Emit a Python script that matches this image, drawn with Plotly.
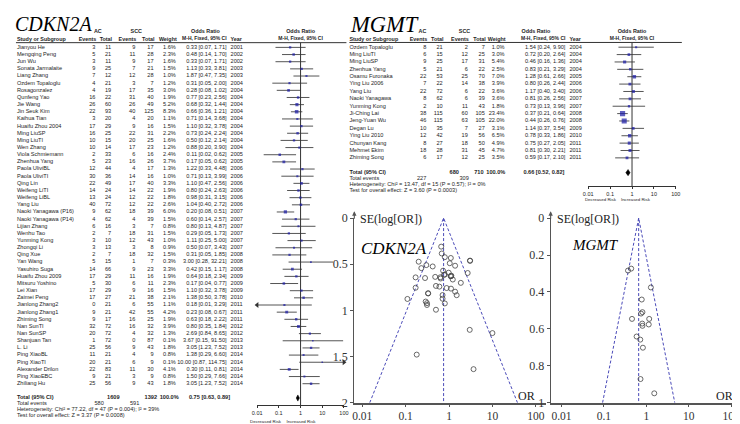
import numpy as np
import plotly.graph_objects as go

W, H = 740, 424

# ---------------- CDKN2A data ----------------
cdk_study = ["Jianyou He", "Mengqing Peng", "Jun Wu", "Sonata Jarmalaite", "Liang Zhang", "Ozdem Topaloglu",
             "Rosagonzalez", "Qunfeng Yao", "Jie Wang", "Jin Seuk Kim", "Kaihua Tian", "Huaifu Zhou 2004",
             "Ming LiuSP", "Ming LiuTI", "Wen Zhang", "Viola Schmiemann", "Zhenhua Yang", "Paola UliviBL",
             "Paola UliviTI", "Qing Lin", "Weifeng LiTI", "Weifeng LiBL", "Yang Liu", "Naoki Yanagawa (P16)",
             "Naoki Yanagawa (P14)", "Lijian Zhang", "Wenhu Tao", "Yunming Kong", "Zhongqi Li", "Qing Xue",
             "Yan Wang", "Yasuhiro Suga", "Huaifu Zhou 2009", "Mitsuru Yoshino", "Lei Xian", "Zaimei Peng",
             "Jianlong Zhang2", "Jianlong Zhang1", "Zhiming Song", "Nan SunTI", "Nan SunSP", "Shanjuan Tan",
             "L. Li", "Ping XiaoBL", "Ping XiaoTI", "Alexander Drilon", "Ping XiaoEBC", "Zhiliang Hu"]
cdk_ac_events = [3, 5, 3, 9, 7, 4, 4, 16, 26, 22, 3, 17, 16, 10, 10, 2, 5, 12, 30, 22, 14, 13, 40, 9, 4, 6, 2, 3, 3, 2,
                 5, 14, 17, 5, 17, 17, 0, 9, 9, 32, 20, 1, 25, 11, 20, 22, 9, 25]
cdk_ac_total = [11, 21, 11, 25, 12, 21, 19, 22, 60, 93, 20, 29, 25, 15, 14, 33, 23, 44, 36, 49, 24, 24, 72, 62, 62, 16,
                7, 10, 13, 7, 15, 66, 29, 30, 29, 27, 21, 21, 17, 72, 72, 72, 56, 21, 21, 83, 21, 56]
cdk_scc_events = [9, 11, 9, 7, 12, 3, 17, 31, 26, 40, 4, 9, 22, 20, 17, 6, 16, 4, 14, 17, 14, 12, 12, 18, 4, 3, 18, 12,
                  3, 18, 1, 9, 11, 6, 9, 21, 6, 42, 16, 16, 4, 0, 9, 4, 6, 11, 3, 9]
cdk_scc_total = [17, 28, 17, 21, 28, 7, 35, 40, 49, 125, 20, 16, 31, 25, 23, 16, 26, 17, 16, 40, 22, 22, 22, 39, 39, 7,
                 31, 43, 8, 32, 7, 23, 16, 11, 16, 38, 55, 55, 25, 32, 32, 87, 43, 9, 9, 30, 9, 43]
cdk_weight = [1.6, 2.3, 1.6, 1.5, 1.0, 1.2, 3.0, 1.9, 5.2, 8.3, 1.1, 1.5, 2.2, 1.6, 1.2, 2.4, 3.7, 1.3, 1.0, 3.3, 1.9,
              1.8, 2.6, 6.0, 1.5, 0.8, 1.5, 1.0, 0.9, 1.5, 0.3, 3.3, 1.9, 2.3, 1.5, 2.1, 1.1, 4.2, 1.9, 3.9, 1.3, 0.1,
              1.8, 0.8, 0.1, 4.1, 0.8, 1.8]
cdk_or = [0.33, 0.48, 0.33, 1.13, 1.87, 0.31, 0.28, 0.77, 0.68, 0.66, 0.71, 1.10, 0.73, 0.50, 0.88, 0.11, 0.17, 1.22,
          0.71, 1.10, 0.80, 0.98, 1.04, 0.20, 0.60, 0.80, 0.29, 1.11, 0.50, 0.31, 3.00, 0.42, 0.64, 0.17, 1.10, 1.38,
          0.18, 0.23, 0.63, 0.80, 2.69, 3.67, 3.05, 1.38, 10.00, 0.30, 1.50, 3.05]
cdk_lo = [0.07, 0.14, 0.07, 0.33, 0.47, 0.05, 0.08, 0.23, 0.32, 0.36, 0.14, 0.32, 0.24, 0.12, 0.20, 0.02, 0.05, 0.33,
          0.13, 0.47, 0.24, 0.31, 0.40, 0.08, 0.14, 0.13, 0.05, 0.25, 0.07, 0.05, 0.28, 0.15, 0.18, 0.04, 0.32, 0.50,
          0.01, 0.08, 0.18, 0.35, 0.84, 0.15, 1.23, 0.29, 0.87, 0.11, 0.29, 1.23]
cdk_hi = [1.71, 1.70, 1.71, 3.81, 7.35, 2.00, 1.02, 2.56, 1.44, 1.21, 3.68, 3.78, 2.24, 2.14, 3.90, 0.62, 0.62, 4.48,
          3.99, 2.56, 2.63, 3.15, 2.72, 0.51, 2.57, 4.87, 1.73, 5.00, 3.43, 1.85, 32.21, 1.17, 2.34, 0.77, 3.78, 3.78,
          3.29, 0.67, 2.22, 1.84, 8.65, 91.50, 7.52, 6.60, 114.75, 0.81, 7.66, 7.52]
cdk_year = [2001, 2002, 2002, 2003, 2003, 2004, 2004, 2004, 2004, 2004, 2004, 2004, 2004, 2004, 2004, 2005, 2005,
            2006, 2006, 2006, 2006, 2006, 2006, 2007, 2007, 2007, 2007, 2007, 2007, 2008, 2008, 2008, 2009, 2009,
            2009, 2010, 2011, 2011, 2011, 2012, 2012, 2013, 2013, 2014, 2014, 2014, 2014, 2014]
cdk_total_n = [1609, 1392]
cdk_total_events = [580, 591]
cdk_pooled = [0.75, 0.63, 0.89]
cdk_het = "Heterogeneity: Chi² = 77.22, df = 47 (P = 0.004); I² = 39%"
cdk_test = "Test for overall effect: Z = 3.37 (P = 0.0008)"

# ---------------- MGMT data ----------------
mg_study = ["Ozdem Topaloglu", "Ming LiuTI", "Ming LiuSP", "Zhenhua Yang", "Osamu Furonaka", "Ying Liu 2006",
            "Yang Liu", "Naoki Yanagawa", "Yunming Kong", "Ji-Ching Lai", "Jeng-Yuan Wu", "Degan Lu",
            "Ying Liu 2010", "Chunyan Kang", "Mehmet Ekim", "Zhiming Song"]
mg_ac_events = [8, 6, 9, 5, 22, 7, 22, 8, 2, 38, 46, 10, 12, 8, 18, 6]
mg_ac_total = [21, 15, 25, 21, 53, 22, 72, 62, 10, 115, 115, 35, 42, 27, 28, 17]
mg_scc_events = [2, 12, 17, 6, 25, 14, 6, 6, 11, 60, 63, 7, 19, 18, 31, 12]
mg_scc_total = [7, 25, 31, 22, 70, 38, 22, 39, 43, 105, 105, 27, 56, 50, 45, 25]
mg_weight = [1.0, 3.0, 5.4, 2.5, 7.0, 3.9, 3.6, 3.6, 1.8, 23.4, 22.0, 3.1, 6.5, 4.9, 4.7, 3.5]
mg_or = [1.54, 0.72, 0.46, 0.83, 1.28, 0.80, 1.17, 0.81, 0.73, 0.37, 0.44, 1.14, 0.78, 0.75, 0.81, 0.59]
mg_lo = [0.24, 0.20, 0.16, 0.21, 0.61, 0.26, 0.40, 0.26, 0.13, 0.21, 0.26, 0.37, 0.33, 0.27, 0.30, 0.17]
mg_hi = [9.90, 2.64, 1.36, 3.29, 2.66, 2.44, 3.40, 2.56, 3.96, 0.64, 0.76, 3.54, 1.86, 2.05, 2.21, 2.10]
mg_year = [2004, 2004, 2004, 2004, 2005, 2006, 2006, 2007, 2007, 2008, 2008, 2009, 2010, 2011, 2011, 2011]
mg_total_n = [680, 710]
mg_total_events = [227, 309]
mg_pooled = [0.66, 0.52, 0.82]
mg_het = "Heterogeneity: Chi² = 13.47, df = 15 (P = 0.57); I² = 0%"
mg_test = "Test for overall effect: Z = 3.60 (P = 0.0003)"

forest_ticks = [0.01, 0.1, 1, 10, 100]
forest_ticktext = ["0.01", "0.1", "1", "10", "100"]
cdk_se_ticks = [0, 0.5, 1, 1.5, 2]
mg_se_ticks = [0, 0.2, 0.4, 0.6, 0.8, 1]

SANS = "Liberation Sans, Arial, sans-serif"
SERIF = "Liberation Serif, Times New Roman, serif"
FS = 5.6
TXT = "#1e1e1e"

fig = go.Figure()


def txt(xs, ys, texts, pos="middle left", size=FS, family=SANS, color=TXT):
    fig.add_trace(go.Scatter(x=xs, y=ys, text=texts, mode="text", textposition=pos,
                             textfont=dict(size=size, family=family, color=color),
                             xaxis="x", yaxis="y", hoverinfo="skip", showlegend=False, cliponaxis=False))


def panel(study, ac_ev, ac_tot, scc_ev, scc_tot, weight, orv, lo, hi, year, tot_n, tot_ev, pooled, het, test,
          row0, dy, cols, tcols, hdr, xaxis, axis_y):
    n = len(study)
    ys = [row0 + i * dy for i in range(n)]
    c = cols
    txt([c["name"]] * n, ys, study, pos="middle right")
    txt([c["ac_ev"]] * n, ys, [str(v) for v in ac_ev])
    txt([c["ac_tot"]] * n, ys, [str(v) for v in ac_tot])
    txt([c["scc_ev"]] * n, ys, [str(v) for v in scc_ev])
    txt([c["scc_tot"]] * n, ys, [str(v) for v in scc_tot])
    txt([c["w"]] * n, ys, ["%.1f%%" % v for v in weight])
    txt([c["ci"]] * n, ys, ["%.2f [%.2f, %.2f]" % (a, b, d) for a, b, d in zip(orv, lo, hi)])
    txt([c["year"]] * n, ys, [str(v) for v in year], pos="middle right")
    yt = ys[-1] + 2 * dy
    y_ev = yt + 6.2
    y_het = y_ev + 6.1
    y_test = y_het + 6.1
    t = tcols
    txt([c["name"]], [yt], ["<b>Total (95% CI)</b>"], pos="middle right")
    txt([t["n1"], t["n2"], t["w"], t["ci"]], [yt] * 4,
        ["<b>%d</b>" % tot_n[0], "<b>%d</b>" % tot_n[1], "<b>100.0%</b>",
         "<b>%.2f [%.2f, %.2f]</b>" % tuple(pooled)])
    txt([c["name"]], [y_ev], ["Total events"], pos="middle right")
    txt([t["e1"], t["e2"]], [y_ev] * 2, [str(tot_ev[0]), str(tot_ev[1])])
    txt([c["name"], c["name"]], [y_het, y_test], [het, test], pos="middle right")
    # headers
    h1, h2 = 16.8, 25.0
    txt([hdr["ac"], hdr["scc"], hdr["or"], hdr["f"]], [h1] * 4,
        ["<b>AC</b>", "<b>SCC</b>", "<b>Odds Ratio</b>", "<b>Odds Ratio</b>"], pos="middle center", size=5.4)
    txt([c["name"], c["year"]], [h2] * 2, ["<b>Study or Subgroup</b>", "<b>Year</b>"], pos="middle right",
        size=5.4)
    txt([c["ac_ev"] + 1, c["ac_tot"] + 1, c["scc_ev"] + 1, c["scc_tot"] + 1, c["w"] + 1], [h2] * 5,
        ["<b>Events</b>", "<b>Total</b>", "<b>Events</b>", "<b>Total</b>", "<b>Weight</b>"], size=5.4)
    txt([c["ci"]], [h2], ["<b>M-H, Fixed, 95% CI</b>"], size=5.0)
    txt([hdr["f"]], [h2], ["<b>M-H, Fixed, 95% CI</b>"], pos="middle center", size=5.0)

    # forest plot
    lx, ly = [], []
    for i in range(n):
        lx += [lo[i], hi[i], None]
        ly += [ys[i], ys[i], None]
    fig.add_trace(go.Scatter(x=lx, y=ly, mode="lines", line=dict(color="#555555", width=1),
                             xaxis=xaxis, yaxis="y", hoverinfo="skip", showlegend=False))
    fig.add_trace(go.Scatter(x=[1, 1], y=[28.6, axis_y], mode="lines", line=dict(color="#333333", width=1),
                             xaxis=xaxis, yaxis="y", hoverinfo="skip", showlegend=False))
    fig.add_trace(go.Scatter(x=orv, y=ys, mode="markers",
                             marker=dict(symbol="square", color="#1a1aa6",
                                         size=[1.3 + 8 * np.sqrt(w / 100) for w in weight], line=dict(width=0)),
                             xaxis=xaxis, yaxis="y", hoverinfo="skip", showlegend=False))
    ax_l = [(forest_ticks[0], ys[i]) for i in range(n) if lo[i] <= forest_ticks[0]]
    ax_r = [(forest_ticks[-1], ys[i]) for i in range(n) if hi[i] >= forest_ticks[-1]]
    if ax_l:
        fig.add_trace(go.Scatter(x=[a[0] for a in ax_l], y=[a[1] for a in ax_l], mode="markers",
                                 marker=dict(symbol="triangle-left", size=5, color="#333333"),
                                 xaxis=xaxis, yaxis="y", cliponaxis=False, hoverinfo="skip", showlegend=False))
    if ax_r:
        fig.add_trace(go.Scatter(x=[a[0] for a in ax_r], y=[a[1] for a in ax_r], mode="markers",
                                 marker=dict(symbol="triangle-right", size=5, color="#333333"),
                                 xaxis=xaxis, yaxis="y", cliponaxis=False, hoverinfo="skip", showlegend=False))
    p, plo, phi = pooled
    fig.add_trace(go.Scatter(x=[plo, p, phi, p, plo], y=[yt, yt - 3.2, yt, yt + 3.2, yt], mode="lines",
                             fill="toself", fillcolor="black", line=dict(color="black", width=0.5),
                             xaxis=xaxis, yaxis="y", hoverinfo="skip", showlegend=False))
    return yt


left_cols = dict(name=4, ac_ev=83.5, ac_tot=99.5, scc_ev=124, scc_tot=142.5, w=165, ci=216.5, year=220.5)
left_tot = dict(n1=108, n2=146, w=168, ci=220, e1=92, e2=128)
left_hdr = dict(ac=86, scc=125, **{"or": 195}, f=291.5)
mg_cols = dict(name=341, ac_ev=419, ac_tot=435.5, scc_ev=461, scc_tot=478.3, w=498.3, ci=560, year=564)
mg_tot = dict(n1=452, n2=477, w=499, ci=559, e1=419, e2=462)
mg_hdr = dict(ac=415, scc=457.7, **{"or": 530}, f=627.5)

L_AXIS_Y = 403.7
M_AXIS_Y = 177.2
panel(cdk_study, cdk_ac_events, cdk_ac_total, cdk_scc_events, cdk_scc_total, cdk_weight, cdk_or, cdk_lo, cdk_hi,
      cdk_year, cdk_total_n, cdk_total_events, cdk_pooled, cdk_het, cdk_test, 33.5, 7.4, left_cols, left_tot,
      left_hdr, "x2", L_AXIS_Y)
panel(mg_study, mg_ac_events, mg_ac_total, mg_scc_events, mg_scc_total, mg_weight, mg_or, mg_lo, mg_hi,
      mg_year, mg_total_n, mg_total_events, mg_pooled, mg_het, mg_test, 33.3, 7.63, mg_cols, mg_tot, mg_hdr,
      "x3", M_AXIS_Y)

# Decreased / Increased risk labels
txt([256, 292, 595.5, 631], [420.6, 420.6, 191.6, 191.6],
    ["Decreased Risk", "Increased Risk", "Decreased Risk", "Increased Risk"], pos="middle center", size=4.4)


# ---------------- funnel plots ----------------
def funnel(orv, lo, hi, pooled, se_max, xa, ya):
    se = [(np.log(h) - np.log(l)) / (2 * 1.959964) for l, h in zip(lo, hi)]
    p = pooled[0]
    fig.add_trace(go.Scatter(x=[p * np.exp(-1.959964 * se_max), p, p * np.exp(1.959964 * se_max)],
                             y=[se_max, 0, se_max], mode="lines",
                             line=dict(color="#4a4ab8", width=1, dash="3px,2px"),
                             xaxis=xa, yaxis=ya, hoverinfo="skip", showlegend=False))
    fig.add_trace(go.Scatter(x=[p, p], y=[0, se_max], mode="lines",
                             line=dict(color="#4a4ab8", width=1, dash="3px,2px"),
                             xaxis=xa, yaxis=ya, hoverinfo="skip", showlegend=False))
    fig.add_trace(go.Scatter(x=orv, y=se, mode="markers",
                             marker=dict(symbol="circle-open", size=5, color="#444444",
                                         line=dict(width=0.8, color="#444444")),
                             xaxis=xa, yaxis=ya, hoverinfo="skip", showlegend=False))


funnel(cdk_or, cdk_lo, cdk_hi, cdk_pooled, cdk_se_ticks[-1], "x4", "y4")
funnel(mg_or, mg_lo, mg_hi, mg_pooled, mg_se_ticks[-1], "x5", "y5")

F_TOP, F_BOT = 210, 401
lf_x0, lf_x1, lf_one, lf_dec = 346, 540, 442, 44.0
rf_x0, rf_x1, rf_one, rf_dec = 545, 733, 642, 43.0

forest_axis = dict(type="log", range=[-2, 2], anchor="free", showline=True, linecolor="#333333", linewidth=1,
                   ticks="outside", ticklen=2, tickcolor="#333333", tickvals=forest_ticks, ticktext=forest_ticktext,
                   tickfont=dict(size=5.5, family=SANS, color=TXT), showgrid=False, zeroline=False)
funnel_x = dict(type="log", showline=True, linecolor="#555555", linewidth=1.5, ticks="outside", ticklen=2,
                tickcolor="#555555", tickvals=forest_ticks, ticktext=forest_ticktext,
                tickfont=dict(size=11.5, family=SERIF, color="#333333"), showgrid=False, zeroline=False)
funnel_y = dict(showline=True, linecolor="#555555", linewidth=1.2, ticks="outside", ticklen=3,
                tickcolor="#555555", tickfont=dict(size=12, family=SERIF, color="#333333"),
                showgrid=False, zeroline=False, domain=[1 - F_BOT / H, 1 - F_TOP / H])

fig.update_layout(
    width=W, height=H, margin=dict(l=0, r=0, t=0, b=0),
    paper_bgcolor="white", plot_bgcolor="rgba(0,0,0,0)", showlegend=False,
    xaxis=dict(domain=[0, 1], range=[0, W], visible=False),
    yaxis=dict(domain=[0, 1], range=[H, 0], visible=False),
    xaxis2=dict(forest_axis, domain=[247.5 / W, 335.5 / W], position=1 - L_AXIS_Y / H),
    xaxis3=dict(forest_axis, domain=[583.1 / W, 671.9 / W], position=1 - M_AXIS_Y / H),
    xaxis4=dict(funnel_x, domain=[lf_x0 / W, lf_x1 / W], anchor="y4",
                range=[(lf_x0 - lf_one) / lf_dec, (lf_x1 - lf_one) / lf_dec]),
    yaxis4=dict(funnel_y, anchor="x4", range=[cdk_se_ticks[-1], 0], tickvals=cdk_se_ticks,
                ticktext=[("%g" % v) for v in cdk_se_ticks]),
    xaxis5=dict(funnel_x, domain=[rf_x0 / W, rf_x1 / W], anchor="y5",
                range=[(rf_x0 - rf_one) / rf_dec, (rf_x1 - rf_one) / rf_dec]),
    yaxis5=dict(funnel_y, anchor="x5", range=[mg_se_ticks[-1], 0], tickvals=mg_se_ticks,
                ticktext=[("%g" % v) for v in mg_se_ticks]),
    shapes=[
        dict(type="line", xref="x", yref="y", x0=3, x1=338, y0=28.6, y1=28.6, line=dict(color="#333333", width=1)),
        dict(type="line", xref="x", yref="y", x0=341, x1=678, y0=28.4, y1=28.4, line=dict(color="#333333", width=1)),
    ],
)

ann = [
    dict(text="<i>CDKN2A</i>", x=1 / W, y=1 - 9 / H, font=dict(family=SERIF, size=20, color="black")),
    dict(text="<i>MGMT</i>", x=341 / W, y=1 - 9.5 / H, font=dict(family=SERIF, size=22.5, color="black")),
    dict(text="<i>CDKN2A</i>", x=352 / W, y=1 - 241 / H, font=dict(family=SERIF, size=17, color="black")),
    dict(text="<i>MGMT</i>", x=566 / W, y=1 - 238 / H, font=dict(family=SERIF, size=15, color="black")),
    dict(text="SE(log[OR])", x=351 / W, y=1 - (F_TOP + 1) / H, font=dict(family=SERIF, size=12, color="#222222")),
    dict(text="SE(log[OR])", x=550 / W, y=1 - (F_TOP + 1) / H, font=dict(family=SERIF, size=12, color="#222222")),
    dict(text="OR", x=511 / W, y=1 - (F_BOT - 7) / H, font=dict(family=SERIF, size=12, color="#222222")),
    dict(text="OR", x=712 / W, y=1 - (F_BOT - 7) / H, font=dict(family=SERIF, size=12, color="#222222")),
]
for a in ann:
    a.update(xref="paper", yref="paper", xanchor="left", yanchor="middle", showarrow=False, borderpad=0)
for xa in (lf_x0, rf_x0):
    ann.append(dict(text="", x=xa / W, y=1 - (F_TOP - 7) / H, ax=0, ay=9, xref="paper", yref="paper",
                    showarrow=True, arrowhead=2, arrowsize=0.8, arrowwidth=1.1, arrowcolor="#555555"))
fig.update_layout(annotations=ann)

fig.write_html("out.html")
